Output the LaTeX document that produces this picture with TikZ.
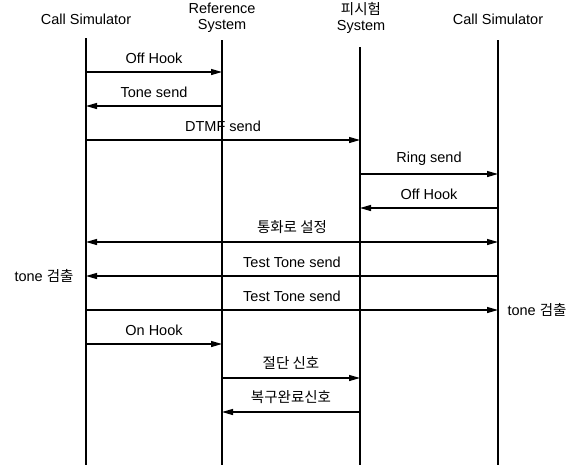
\documentclass[tikz,border=0pt]{standalone}
\usepackage{fontspec}
\setmainfont{Liberation Sans}
\newfontfamily\krfont{Noto Sans CJK KR}
\usetikzlibrary{arrows.meta,positioning}
\tikzset{
  lifeline/.style = {line width=1.6pt},
  msg/.style      = {->, line width=1.3pt},
  dmsg/.style     = {<->, line width=1.3pt},
  lbl/.style      = {above=7pt, midway, inner sep=1pt},
  hdr/.style      = {align=center, inner sep=0pt},
}

\begin{document}
\begin{tikzpicture}[x=1pt,y=-1pt,font=\fontsize{14.5}{15.5}\selectfont,
  >={Triangle[length=11pt,width=6pt]}]
\useasboundingbox (0,0) rectangle (576,467);
% headers
\node[hdr] (hcs) at (86,19) {Call Simulator};
\node[hdr] (hrs) at (222,18) {Reference\\System};
\node[hdr] (hut) at (361,18) {{\krfont 피시험}\\System};
\node[hdr] (hcd) at (498,19) {Call Simulator};
% lifelines
\foreach \n/\x/\t in {cs/86/38, rs/222/40, ut/360/47, cd/498/40} {
  \coordinate (\n top) at (\x,\t);
  \coordinate (\n bot) at (\x,465);
  \draw[lifeline] (\n top) -- (\n bot);
}
% message rows
\foreach \r/\y in {1/72,2/106,3/140,4/174,5/208,6/242,7/276,8/310,9/344,10/378,11/412} {
  \foreach \n/\x in {cs/86,rs/222,ut/360,cd/498}
    \coordinate (\n\r) at (\x,\y);
}
% messages
\draw[msg] (cs1) -- (rs1) node[lbl] {Off Hook};
\draw[msg] (rs2) -- (cs2) node[lbl] {Tone send};
\draw[msg] (cs3) -- (ut3) node[lbl] {DTMF send};
\draw[msg] (ut4) -- (cd4) node[lbl] {Ring send};
\draw[msg] (cd5) -- (ut5) node[lbl] {Off Hook};
\draw[dmsg] (cs6) -- (cd6) node[lbl] {\krfont 통화로 설정};
\draw[msg] (cd7) -- (cs7) node[lbl] {Test Tone send};
\draw[msg] (cs8) -- (cd8) node[lbl] {Test Tone send};
\draw[msg] (cs9) -- (rs9) node[lbl] {On Hook};
\draw[msg] (rs10) -- (ut10) node[lbl] {\krfont 절단 신호};
\draw[msg] (ut11) -- (rs11) node[lbl] {\krfont 복구완료신호};
% detection notes
\node[left=9pt of cs7] (det1) {tone {\krfont 검출}};
\node[right=6pt of cd8] (det2) {tone {\krfont 검출}};
\end{tikzpicture}
\end{document}
